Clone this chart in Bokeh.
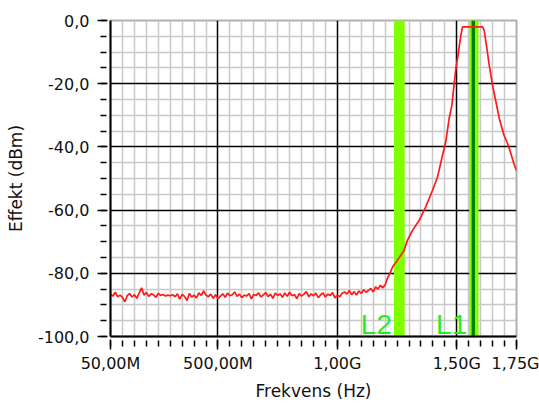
from bokeh.plotting import figure
from bokeh.models import FixedTicker, Grid, Range1d, ColumnDataSource
from bokeh.core.properties import value
from bokeh.embed import file_html
from bokeh.resources import INLINE

# ---- data (frequency in MHz, power in dBm) ----
noise_freq = list(range(50, 1121, 10))
noise_dbm = [
    -86.6, -87.2, -86.0, -87.4, -86.9, -87.6, -89.0, -87.1, -86.4, -87.5,
    -86.8, -87.9, -86.3, -84.6, -86.9, -86.1, -87.3, -86.5, -86.8, -87.6,
    -86.4, -87.0, -86.7, -87.2, -86.9, -87.1, -86.8, -87.4, -86.5, -88.2,
    -86.7, -87.3, -88.6, -86.4, -87.5, -86.9, -87.8, -86.2, -87.0, -85.6,
    -86.9, -87.4, -86.6, -87.9, -86.8, -88.0, -87.2, -86.5, -87.6, -86.3,
    -87.1, -86.8, -85.9, -87.3, -86.6, -87.7, -86.9, -87.2, -86.4, -88.1,
    -86.7, -87.0, -86.2, -87.5, -86.8, -86.1, -87.4, -86.6, -87.9, -86.3,
    -87.0, -86.5, -87.6, -86.2, -87.3, -86.0, -87.1, -86.7, -88.0, -86.4,
    -87.2, -86.6, -85.8, -87.4, -86.5, -87.1, -86.3, -87.7, -86.8, -86.2,
    -87.5, -86.6, -87.0, -86.1, -87.8, -86.9, -87.4, -86.3, -85.9, -86.6,
    -85.4, -86.8, -85.8, -86.9, -85.6, -86.4, -85.2, -86.0,
]
band_freq = [1130, 1140, 1150, 1160, 1170, 1180, 1190, 1200, 1210, 1220,
             1231, 1250, 1279, 1293, 1314, 1342, 1370, 1398, 1419, 1440,
             1454, 1468, 1479, 1489, 1496, 1505, 1517, 1524, 1608, 1615,
             1626, 1636, 1650, 1664, 1678, 1698, 1713, 1726, 1740, 1750]
band_dbm = [-85.4, -84.8, -85.9, -84.3, -85.0, -83.8, -84.6, -83.6, -81.5, -80.0,
            -78.0, -76.0, -72.8, -69.6, -66.5, -63.3, -59.0, -53.8, -49.6, -42.7,
            -38.3, -31.0, -27.0, -20.0, -15.3, -11.0, -4.7, -2.0, -2.0, -3.2,
            -8.9, -14.2, -20.6, -25.8, -31.0, -36.4, -39.0, -42.0, -45.5, -47.5]

marker_names = ["L2", "L1"]
marker_lo = [1237, 1552]
marker_hi = [1282, 1591]
l1_center = [1569]

x_ticks = [50, 500, 1000, 1500, 1750]
x_tick_labels = ["50,00M", "500,00M", "1,00G", "1,50G", "1,75G"]
y_ticks = [0, -20, -40, -60, -80, -100]
y_tick_labels = ["0,0", "-20,0", "-40,0", "-60,0", "-80,0", "-100,0"]

freq = noise_freq + band_freq
dbm = noise_dbm + band_dbm

p = figure(width=539, height=403, output_backend="svg", toolbar_location=None,
           x_range=Range1d(50, 1750), y_range=Range1d(-100, 0),
           min_border_left=110, min_border_right=23, min_border_top=20,
           min_border_bottom=67)
p.background_fill_color = "white"
p.border_fill_color = "white"
p.outline_line_color = "#b0b0b0"
p.outline_line_width = 2

# grids: minor first, then major so black lines are on top
p.xgrid.grid_line_color = None
p.ygrid.grid_line_color = None
x_minor = [f for f in range(100, 1750, 50) if f not in x_ticks]
y_minor = [v for v in range(-95, 0, 5) if v not in y_ticks]
for dim, tks in ((0, x_minor), (1, y_minor)):
    p.add_layout(Grid(dimension=dim, ticker=FixedTicker(ticks=tks),
                      grid_line_color="#c8c8c8", grid_line_width=1.5))
for dim, tks in ((0, [500, 1000, 1500]), (1, [-20, -40, -60, -80])):
    p.add_layout(Grid(dimension=dim, ticker=FixedTicker(ticks=tks),
                      grid_line_color="black", grid_line_width=1.5))

# axes
p.xaxis.ticker = FixedTicker(ticks=x_ticks, minor_ticks=list(range(50, 1751, 50)))
p.xaxis.major_label_overrides = dict(zip(x_ticks, x_tick_labels))
p.yaxis.ticker = FixedTicker(ticks=y_ticks, minor_ticks=list(range(-100, 1, 5)))
p.yaxis.major_label_overrides = dict(zip(y_ticks, y_tick_labels))
for ax in (p.xaxis[0], p.yaxis[0]):
    ax.axis_line_color = "black"
    ax.axis_line_width = 2
    ax.major_tick_line_color = "black"
    ax.minor_tick_line_color = "black"
    ax.major_tick_line_width = 1.5
    ax.minor_tick_line_width = 1.5
    ax.major_tick_in = -3
    ax.major_tick_out = 13
    ax.minor_tick_in = -4
    ax.minor_tick_out = 10
    ax.major_label_text_font = "DejaVu Sans"
    ax.major_label_text_font_size = "16px"
    ax.major_label_text_color = "#111111"
    ax.axis_label_text_font = "DejaVu Sans"
    ax.axis_label_text_font_size = "17px"
    ax.axis_label_text_font_style = "normal"
    ax.axis_label_text_color = "#111111"
p.xaxis.axis_label = "Frekvens (Hz)"
p.yaxis.axis_label = "Effekt (dBm)"
p.xaxis.major_label_standoff = 4
p.xaxis.axis_label_standoff = 5
p.yaxis.major_label_standoff = 8
p.yaxis.axis_label_standoff = 9

# markers
mk = ColumnDataSource(dict(name=marker_names, lo=marker_lo, hi=marker_hi,
                           top=[0, 0], bottom=[-100, -100]))
p.quad(left="lo", right="hi", top="top", bottom="bottom", source=mk,
       fill_color="#80ff00", line_color=None)
p.vbar(x=l1_center, width=14, top=0, bottom=-100, fill_color="#008000",
       line_color=None)
p.text(x="lo", y="bottom", text="name", source=mk, text_align="right",
       text_baseline="bottom", text_font=value("Liberation Sans"),
       text_font_size="28px", text_color="#1ef01e", x_offset=-2, y_offset=3)

# trace
p.line(freq, dbm, line_color="#ff1a1a", line_width=1.7)

open("out.html", "w").write(file_html(p, INLINE))
